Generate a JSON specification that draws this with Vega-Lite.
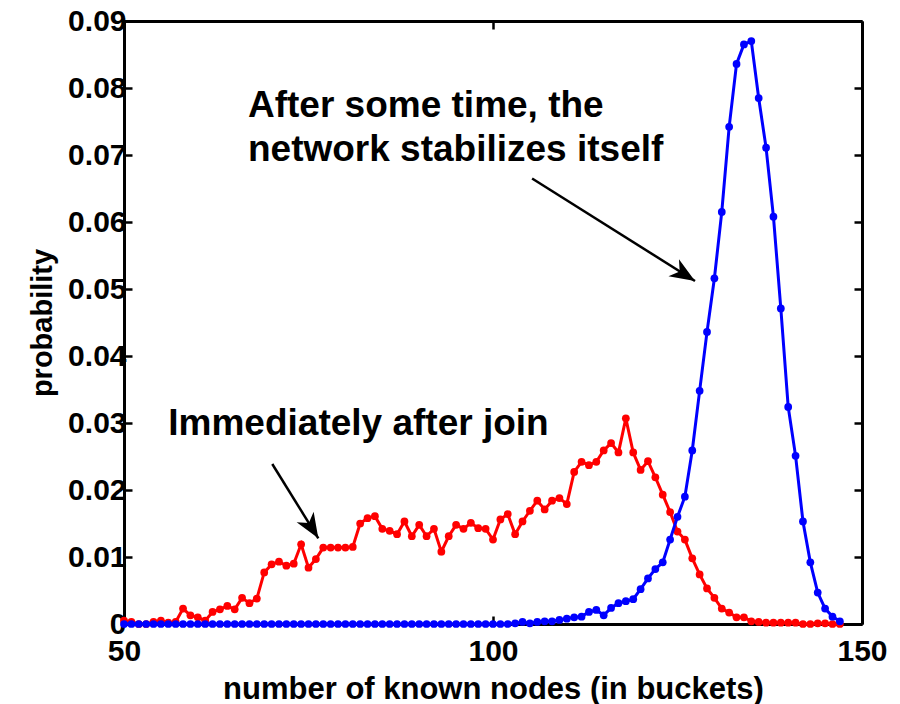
{
  "$schema": "https://vega.github.io/schema/vega-lite/v6.json",
  "width": 738,
  "height": 603,
  "autosize": {"type": "none"},
  "padding": {"left": 124, "top": 21, "right": 38, "bottom": 80},
  "background": "white",
  "config": {
    "font": "Liberation Sans",
    "view": {"stroke": null},
    "axis": {
      "grid": false,
      "domainColor": "black",
      "domainWidth": 3,
      "tickColor": "black",
      "tickWidth": 2.5,
      "tickSize": -8,
      "labelFont": "Liberation Sans",
      "labelFontWeight": "bold",
      "labelFontSize": 30,
      "labelColor": "black",
      "titleFont": "Liberation Sans",
      "titleFontWeight": "bold",
      "titleColor": "black"
    }
  },
  "datasets": {
    "join": [
      {"n": 50, "p": 0.0005}, {"n": 51, "p": 0.0003}, {"n": 52, "p": 0.0}, {"n": 53, "p": 0.0}, {"n": 54, "p": 0.0003},
      {"n": 55, "p": 0.0005}, {"n": 56, "p": 0.0002}, {"n": 57, "p": 0.0003}, {"n": 58, "p": 0.0023}, {"n": 59, "p": 0.0013},
      {"n": 60, "p": 0.0010}, {"n": 61, "p": 0.0005}, {"n": 62, "p": 0.0018}, {"n": 63, "p": 0.0022}, {"n": 64, "p": 0.0027},
      {"n": 65, "p": 0.0022}, {"n": 66, "p": 0.0039}, {"n": 67, "p": 0.0031}, {"n": 68, "p": 0.0038}, {"n": 69, "p": 0.0077},
      {"n": 70, "p": 0.0089}, {"n": 71, "p": 0.0093}, {"n": 72, "p": 0.0087}, {"n": 73, "p": 0.0090}, {"n": 74, "p": 0.0119},
      {"n": 75, "p": 0.0084}, {"n": 76, "p": 0.0097}, {"n": 77, "p": 0.0114}, {"n": 78, "p": 0.0114}, {"n": 79, "p": 0.0114},
      {"n": 80, "p": 0.0114}, {"n": 81, "p": 0.0115}, {"n": 82, "p": 0.0150}, {"n": 83, "p": 0.0158}, {"n": 84, "p": 0.0161},
      {"n": 85, "p": 0.0142}, {"n": 86, "p": 0.0139}, {"n": 87, "p": 0.0134}, {"n": 88, "p": 0.0153}, {"n": 89, "p": 0.0131},
      {"n": 90, "p": 0.0148}, {"n": 91, "p": 0.0131}, {"n": 92, "p": 0.0142}, {"n": 93, "p": 0.0108}, {"n": 94, "p": 0.0131},
      {"n": 95, "p": 0.0148}, {"n": 96, "p": 0.0142}, {"n": 97, "p": 0.0151}, {"n": 98, "p": 0.0143}, {"n": 99, "p": 0.0142},
      {"n": 100, "p": 0.0126}, {"n": 101, "p": 0.0156}, {"n": 102, "p": 0.0164}, {"n": 103, "p": 0.0134}, {"n": 104, "p": 0.0153},
      {"n": 105, "p": 0.0169}, {"n": 106, "p": 0.0184}, {"n": 107, "p": 0.0171}, {"n": 108, "p": 0.0184}, {"n": 109, "p": 0.0188},
      {"n": 110, "p": 0.0179}, {"n": 111, "p": 0.0227}, {"n": 112, "p": 0.0242}, {"n": 113, "p": 0.0237}, {"n": 114, "p": 0.0242},
      {"n": 115, "p": 0.0259}, {"n": 116, "p": 0.0270}, {"n": 117, "p": 0.0256}, {"n": 118, "p": 0.0307}, {"n": 119, "p": 0.0256},
      {"n": 120, "p": 0.0230}, {"n": 121, "p": 0.0243}, {"n": 122, "p": 0.0219}, {"n": 123, "p": 0.0193}, {"n": 124, "p": 0.0167},
      {"n": 125, "p": 0.0138}, {"n": 126, "p": 0.0126}, {"n": 127, "p": 0.0098}, {"n": 128, "p": 0.0074}, {"n": 129, "p": 0.0053},
      {"n": 130, "p": 0.0039}, {"n": 131, "p": 0.0023}, {"n": 132, "p": 0.0017}, {"n": 133, "p": 0.0010}, {"n": 134, "p": 0.0010},
      {"n": 135, "p": 0.0004}, {"n": 136, "p": 0.0003}, {"n": 137, "p": 0.0002}, {"n": 138, "p": 0.0002}, {"n": 139, "p": 0.0002},
      {"n": 140, "p": 0.0002}, {"n": 141, "p": 0.0002}, {"n": 142, "p": 0.0}, {"n": 143, "p": 0.0}, {"n": 144, "p": 0.0001},
      {"n": 145, "p": 0.0001}, {"n": 146, "p": 0.0}, {"n": 147, "p": 0.0}
    ],
    "stable": [
      {"n": 50, "p": 0}, {"n": 51, "p": 0}, {"n": 52, "p": 0}, {"n": 53, "p": 0}, {"n": 54, "p": 0},
      {"n": 55, "p": 0}, {"n": 56, "p": 0}, {"n": 57, "p": 0}, {"n": 58, "p": 0}, {"n": 59, "p": 0},
      {"n": 60, "p": 0}, {"n": 61, "p": 0}, {"n": 62, "p": 0}, {"n": 63, "p": 0}, {"n": 64, "p": 0},
      {"n": 65, "p": 0}, {"n": 66, "p": 0}, {"n": 67, "p": 0}, {"n": 68, "p": 0}, {"n": 69, "p": 0},
      {"n": 70, "p": 0}, {"n": 71, "p": 0}, {"n": 72, "p": 0}, {"n": 73, "p": 0}, {"n": 74, "p": 0},
      {"n": 75, "p": 0}, {"n": 76, "p": 0}, {"n": 77, "p": 0}, {"n": 78, "p": 0}, {"n": 79, "p": 0},
      {"n": 80, "p": 0}, {"n": 81, "p": 0}, {"n": 82, "p": 0}, {"n": 83, "p": 0}, {"n": 84, "p": 0},
      {"n": 85, "p": 0}, {"n": 86, "p": 0}, {"n": 87, "p": 0}, {"n": 88, "p": 0}, {"n": 89, "p": 0},
      {"n": 90, "p": 0}, {"n": 91, "p": 0}, {"n": 92, "p": 0}, {"n": 93, "p": 0}, {"n": 94, "p": 0},
      {"n": 95, "p": 0}, {"n": 96, "p": 0}, {"n": 97, "p": 0}, {"n": 98, "p": 0}, {"n": 99, "p": 0},
      {"n": 100, "p": 0}, {"n": 101, "p": 0}, {"n": 102, "p": 0}, {"n": 103, "p": 0.0001}, {"n": 104, "p": 0.0003},
      {"n": 105, "p": 0.0001}, {"n": 106, "p": 0.0003}, {"n": 107, "p": 0.0004}, {"n": 108, "p": 0.0004}, {"n": 109, "p": 0.0006},
      {"n": 110, "p": 0.0008}, {"n": 111, "p": 0.0010}, {"n": 112, "p": 0.0011}, {"n": 113, "p": 0.0018}, {"n": 114, "p": 0.0021},
      {"n": 115, "p": 0.0013}, {"n": 116, "p": 0.0024}, {"n": 117, "p": 0.0031}, {"n": 118, "p": 0.0034}, {"n": 119, "p": 0.0037},
      {"n": 120, "p": 0.0052}, {"n": 121, "p": 0.0068}, {"n": 122, "p": 0.0082}, {"n": 123, "p": 0.0092}, {"n": 124, "p": 0.0126},
      {"n": 125, "p": 0.0160}, {"n": 126, "p": 0.0190}, {"n": 127, "p": 0.0259}, {"n": 128, "p": 0.0348}, {"n": 129, "p": 0.0436},
      {"n": 130, "p": 0.0516}, {"n": 131, "p": 0.0615}, {"n": 132, "p": 0.0742}, {"n": 133, "p": 0.0836}, {"n": 134, "p": 0.0865},
      {"n": 135, "p": 0.0870}, {"n": 136, "p": 0.0785}, {"n": 137, "p": 0.0711}, {"n": 138, "p": 0.0608}, {"n": 139, "p": 0.0471},
      {"n": 140, "p": 0.0324}, {"n": 141, "p": 0.0251}, {"n": 142, "p": 0.0153}, {"n": 143, "p": 0.0092}, {"n": 144, "p": 0.0047},
      {"n": 145, "p": 0.0023}, {"n": 146, "p": 0.0011}, {"n": 147, "p": 0.0004}
    ],
    "notes": [
      {"n": 66.8, "p": 0.0757, "text": "After some time, the"},
      {"n": 66.8, "p": 0.0691, "text": "network stabilizes itself"},
      {"n": 56.0, "p": 0.0282, "text": "Immediately after join"}
    ],
    "arrows": [
      {"id": "a", "n": 105.3, "p": 0.0665, "n2": 127.37, "p2": 0.0512},
      {"id": "b", "n": 70.09, "p": 0.02388, "n2": 76.33, "p2": 0.01279}
    ]
  },
  "resolve": {"axis": {"x": "independent", "y": "independent"}},
  "layer": [
    {
      "data": {"name": "join"},
      "mark": {"type": "line", "color": "#ff0000", "strokeWidth": 3},
      "encoding": {
        "x": {"field": "n", "type": "quantitative", "scale": {"domain": [50, 150], "nice": false, "zero": false},
          "axis": {"values": [50, 100, 150], "title": "number of known nodes (in buckets)", "titleFontSize": 31, "labelPadding": 20, "titlePadding": 8, "labelFlush": false}},
        "y": {"field": "p", "type": "quantitative", "scale": {"domain": [0, 0.09], "nice": false, "zero": true},
          "axis": {"values": [0, 0.01, 0.02, 0.03, 0.04, 0.05, 0.06, 0.07, 0.08, 0.09], "labelExpr": "datum.value == 0 ? '0' : format(datum.value, '.2f')", "title": "probability", "titleFontSize": 29, "labelPadding": 6, "titlePadding": 10, "labelFlush": false}}
      }
    },
    {
      "data": {"name": "join"},
      "mark": {"type": "point", "filled": true, "color": "#ff0000", "size": 60, "opacity": 1},
      "encoding": {
        "x": {"field": "n", "type": "quantitative", "axis": null},
        "y": {"field": "p", "type": "quantitative", "axis": null}
      }
    },
    {
      "data": {"name": "stable"},
      "mark": {"type": "line", "color": "#0000ff", "strokeWidth": 3},
      "encoding": {
        "x": {"field": "n", "type": "quantitative", "axis": {"orient": "top", "values": [50, 100, 150], "labels": false, "title": null}},
        "y": {"field": "p", "type": "quantitative", "axis": {"orient": "right", "values": [0, 0.01, 0.02, 0.03, 0.04, 0.05, 0.06, 0.07, 0.08, 0.09], "labels": false, "title": null}}
      }
    },
    {
      "data": {"name": "stable"},
      "mark": {"type": "point", "filled": true, "color": "#0000ff", "size": 60, "opacity": 1},
      "encoding": {
        "x": {"field": "n", "type": "quantitative", "axis": null},
        "y": {"field": "p", "type": "quantitative", "axis": null}
      }
    },
    {
      "data": {"name": "arrows"},
      "mark": {"type": "rule", "color": "black", "strokeWidth": 2.5},
      "encoding": {
        "x": {"field": "n", "type": "quantitative", "axis": null},
        "y": {"field": "p", "type": "quantitative", "axis": null},
        "x2": {"field": "n2"},
        "y2": {"field": "p2"}
      }
    },
    {
      "data": {"name": "arrows"},
      "mark": {"type": "point", "filled": true, "color": "black", "opacity": 1, "size": 2500, "shape": "M0,0L0.4,1L0,0.72L-0.4,1Z"},
      "encoding": {
        "x": {"field": "n2", "type": "quantitative", "axis": null},
        "y": {"field": "p2", "type": "quantitative", "axis": null},
        "angle": {"field": "id", "type": "nominal", "scale": {"domain": ["a", "b"], "range": [121.7, 148.2]}, "legend": null}
      }
    },
    {
      "data": {"name": "notes"},
      "mark": {"type": "text", "align": "left", "baseline": "alphabetic", "font": "Liberation Sans", "fontWeight": "bold", "fontSize": 37, "color": "black"},
      "encoding": {
        "x": {"field": "n", "type": "quantitative", "axis": null},
        "y": {"field": "p", "type": "quantitative", "axis": null},
        "text": {"field": "text"}
      }
    }
  ]
}
